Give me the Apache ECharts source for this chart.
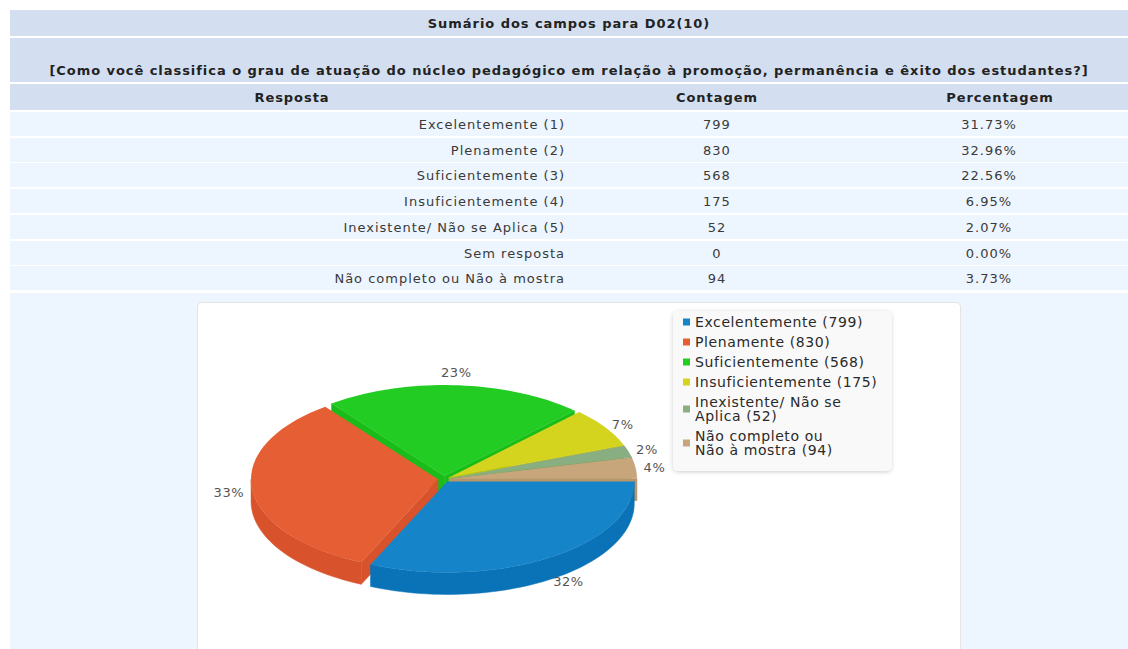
<!DOCTYPE html>
<html lang="pt-BR">
	<head>
		<meta charset="utf-8" />
		<title>Sumário dos campos para D02(10)</title>
		<script src="https://cdn.jsdelivr.net/npm/echarts@6/dist/echarts.min.js"></script>
		<style>
			body { margin: 0; width: 1128px; height: 649px; overflow: hidden; position: relative; background: #fff; font-family: "DejaVu Sans", Verdana, sans-serif; font-size: 13px; letter-spacing: 1px; color: #3a3a3a; }
			.faixa { position: absolute; left: 10px; width: 1118px; }
			.cab { background: #d3dff0; font-weight: bold; color: #222; letter-spacing: 0.95px; }
			.lin { background: #edf5fe; }
			.cel { position: absolute; top: 0; height: 100%; display: flex; align-items: center; white-space: nowrap; }
			#grafico { position: absolute; left: 197px; top: 302px; width: 764px; height: 360px; background: #fff; border: 1px solid #e4e4e4; border-radius: 5px; box-sizing: border-box; }
			#grafico text { letter-spacing: 0.6px; }
		</style>
	</head>

	<body>
		<div class="faixa cab" style="top:10px;height:26px;">
			<div class="cel" style="left:0;width:100%;justify-content:center;">Sumário dos campos para D02(10)</div>
		</div>
		<div class="faixa cab" style="top:38px;height:44px;">
			<div class="cel" style="left:0;width:100%;justify-content:center;align-items:flex-end;height:40px;">[Como você classifica o grau de atuação do núcleo pedagógico em relação à promoção, permanência e êxito dos estudantes?]</div>
		</div>
		<div class="faixa cab" style="top:84px;height:26px;">
			<div class="cel" style="left:0;width:564px;justify-content:center;">Resposta</div>
			<div class="cel" style="left:564px;width:286px;justify-content:center;">Contagem</div>
			<div class="cel" style="left:862px;width:256px;justify-content:center;">Percentagem</div>
		</div>
		<div id="linhas"></div>
		<div class="faixa lin" style="top:293px;height:356px;"></div>
		<div id="grafico"></div>

		<script type="text/javascript">
			// dados da tabela
			const respostas = ['Excelentemente (1)', 'Plenamente (2)', 'Suficientemente (3)', 'Insuficientemente (4)', 'Inexistente/ Não se Aplica (5)', 'Sem resposta', 'Não completo ou Não à mostra'];
			const contagens = [799, 830, 568, 175, 52, 0, 94];
			const percentagens = ['31.73%', '32.96%', '22.56%', '6.95%', '2.07%', '0.00%', '3.73%'];

			// dados do grafico (sem "Sem resposta", que vale 0)
			const fatiaNomes = ['Excelentemente (799)', 'Plenamente (830)', 'Suficientemente (568)', 'Insuficientemente (175)', 'Inexistente/ Não se Aplica (52)', 'Não completo ou Não à mostra (94)'];
			const fatiaLegenda = ['Excelentemente (799)', 'Plenamente (830)', 'Suficientemente (568)', 'Insuficientemente (175)', 'Inexistente/ Não se\nAplica (52)', 'Não completo ou\nNão à mostra (94)'];
			const fatiaValores = [799, 830, 568, 175, 52, 94];

			const cores = ['#1584c8', '#e65f34', '#22cc22', '#d4d41e', '#88ae82', '#c8a67c'];
			const coresLado = ['#0a72b6', '#d8532b', '#19bc19', '#c4c412', '#76a070', '#b8966c'];

			/******** tabela ********/
			let html = '';
			respostas.forEach(function (r, i) {
				const top = Math.round(112 + i * 25.7);
				html += '<div class="faixa lin" style="top:' + top + 'px;height:24px;">' +
					'<div class="cel" style="left:0;width:555px;justify-content:flex-end;">' + r + '</div>' +
					'<div class="cel" style="left:564px;width:286px;justify-content:center;">' + contagens[i] + '</div>' +
					'<div class="cel" style="left:850px;width:258px;justify-content:center;">' + percentagens[i] + '</div>' +
					'</div>';
			});
			document.getElementById('linhas').innerHTML = html;

			/******** pizza 3D ********/
			const total = fatiaValores.reduce(function (a, b) { return a + b; }, 0);
			const CX = 246, CY = 176, RX = 187, RY = 91, PROF = 22, EXP = 6;

			function ponto(cx, cy, a, dy) {
				return [cx + RX * Math.cos(a), cy + RY * Math.sin(a) + (dy || 0)];
			}

			function arco(cx, cy, a0, a1, dy) {
				const passos = Math.max(2, Math.ceil((a1 - a0) / (Math.PI / 90)));
				const pts = [];
				for (let s = 0; s <= passos; s++) {
					pts.push(ponto(cx, cy, a0 + (a1 - a0) * s / passos, dy));
				}
				return pts;
			}

			function parede(cx, cy, a, cor) {
				const p = ponto(cx, cy, a);
				const pts = [[cx, cy], p, [p[0], p[1] + PROF], [cx, cy + PROF]];
				return { type: 'polygon', shape: { points: pts }, style: { fill: cor, stroke: cor, lineWidth: 0.5 }, z2: 10 + Math.round((cy + p[1]) / 2) };
			}

			function renderFatia(params, api) {
				const i = api.value(1);
				const v = api.value(0);
				let antes = 0;
				for (let k = 0; k < i; k++) antes += fatiaValores[k];
				const a0 = antes / total * 2 * Math.PI;
				const a1 = (antes + v) / total * 2 * Math.PI;
				const am = (a0 + a1) / 2;
				const cx = CX + EXP * Math.cos(am);
				const cy = CY + EXP * Math.sin(am) * RY / RX;
				const filhos = [];

				// lateral externa (metade da frente)
				const lo = Math.max(a0, 0), hi = Math.min(a1, Math.PI);
				if (hi > lo) {
					const cima = arco(cx, cy, lo, hi, 0);
					const baixo = arco(cx, cy, lo, hi, PROF).reverse();
					filhos.push({ type: 'polygon', shape: { points: cima.concat(baixo) }, style: { fill: coresLado[i], stroke: coresLado[i], lineWidth: 0.5 }, z2: 10 + Math.round(cy + RY * Math.sin((lo + hi) / 2)) });
				}
				// paredes dos cortes voltadas para a frente
				if (Math.cos(a0) < 0) filhos.push(parede(cx, cy, a0, coresLado[i]));
				if (Math.cos(a1) > 0) filhos.push(parede(cx, cy, a1, coresLado[i]));

				// face de cima
				filhos.push({ type: 'polygon', shape: { points: [[cx, cy]].concat(arco(cx, cy, a0, a1, 0)) }, style: { fill: cores[i] }, z2: 1000 });

				// rotulo de percentagem, alinhado conforme o lado da pizza
				const c = Math.cos(am), s = Math.sin(am);
				const lx = cx + (RX + 8) * c;
				const ly = cy + (RY + 6) * s + (s > 0 ? PROF * s : 0);
				filhos.push({
					type: 'text', x: lx, y: ly, z2: 1100,
					style: {
						text: Math.round(v / total * 100) + '%', fill: '#555', font: '13px "DejaVu Sans"',
						align: c > 0.3 ? 'left' : (c < -0.3 ? 'right' : 'center'),
						verticalAlign: s > 0.9 ? 'top' : (s < -0.9 ? 'bottom' : 'middle')
					}
				});
				return { type: 'group', children: filhos };
			}

			const grafico = echarts.init(document.getElementById('grafico'), null, { renderer: 'svg' });
			grafico.setOption({
				animation: false,
				legend: {
					orient: 'vertical',
					left: 475,
					top: 8,
					icon: 'rect',
					itemWidth: 7,
					itemHeight: 7,
					itemGap: 6,
					selectedMode: false,
					data: fatiaNomes,
					formatter: function (nome) { return fatiaLegenda[fatiaNomes.indexOf(nome)]; },
					textStyle: { fontFamily: 'DejaVu Sans', fontSize: 14, color: '#2a2a2a', lineHeight: 14 },
					backgroundColor: '#f9f9f9',
					borderRadius: 5,
					padding: [4, 28, 14, 10],
					shadowBlur: 4,
					shadowColor: 'rgba(0,0,0,0.2)',
					shadowOffsetY: 1
				},
				series: fatiaValores.map(function (v, i) {
					return {
						type: 'custom',
						name: fatiaNomes[i],
						coordinateSystem: 'none',
						itemStyle: { color: cores[i] },
						silent: true,
						data: [[v, i]],
						renderItem: renderFatia
					};
				})
			});

			window.onresize = function () {
				grafico.resize();
			};
		</script>
	</body>
</html>
